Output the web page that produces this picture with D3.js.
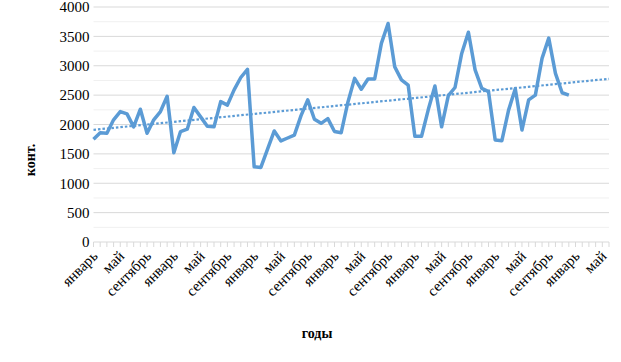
<!DOCTYPE html>
<html>
<head>
<meta charset="utf-8">
<script src="https://cdn.jsdelivr.net/npm/d3@7"></script>
<style>
body { margin: 0; background: #fff; }
text { font-family: "Liberation Serif", "Times New Roman", serif; fill: #000; }
</style>
</head>
<body>
<div id="chart"></div>
<script>
// monthly values, Jan of year 1 .. Dec of year 6
var values = [
    1750, 1860, 1850, 2080, 2220, 2180, 1960, 2260, 1850, 2080, 2220, 2480,
    1520, 1880, 1920, 2290, 2130, 1970, 1960, 2390, 2330, 2590, 2800, 2940,
    1280, 1270, 1580, 1890, 1720, 1770, 1820, 2150, 2420, 2090, 2020, 2100,
    1880, 1860, 2380, 2785, 2600, 2775, 2775, 3380, 3720, 2980, 2760, 2670,
    1800, 1800, 2250, 2655, 1960, 2490, 2630, 3210, 3570, 2930, 2615, 2560,
    1735, 1725, 2245, 2610, 1905, 2420, 2500, 3125, 3470, 2870, 2540, 2500
]
var monthNames = ["январь", "май", "сентябрь"]
var yTicks = [0, 500, 1000, 1500, 2000, 2500, 3000, 3500, 4000]
var nCategories = 77   // axis runs to may of year 7

var width = 621, height = 362
var svg = d3.select("#chart").append("svg")
    .attr("width", width)
    .attr("height", height)

var x = d3.scaleLinear().domain([0, nCategories]).range([93.5, 609])
var y = d3.scaleLinear().domain([0, 4000]).range([242, 7])

// minor gridlines
svg.append("g")
    .selectAll("line")
    .data(d3.range(250, 4000, 500))
    .enter()
    .append("line")
    .attr("x1", x(0)).attr("x2", x(nCategories))
    .attr("y1", function (d) { return y(d) }).attr("y2", function (d) { return y(d) })
    .attr("stroke", "#f0f0f0")
    .attr("stroke-width", 1)

// major gridlines
svg.append("g")
    .selectAll("line")
    .data(yTicks.slice(1))
    .enter()
    .append("line")
    .attr("x1", x(0)).attr("x2", x(nCategories))
    .attr("y1", function (d) { return y(d) }).attr("y2", function (d) { return y(d) })
    .attr("stroke", "#d9d9d9")
    .attr("stroke-width", 1)

// y axis labels
var yAxis = d3.axisLeft(y).tickValues(yTicks).tickFormat(d3.format("d")).tickSize(0).tickPadding(4)
var gy = svg.append("g")
    .attr("transform", "translate(" + x(0) + ",0)")
    .call(yAxis)
    .attr("font-family", "Liberation Serif")
    .attr("font-size", 15)
gy.select(".domain").remove()

// x axis line and month ticks
svg.append("line")
    .attr("x1", x(0)).attr("x2", x(nCategories))
    .attr("y1", y(0)).attr("y2", y(0))
    .attr("stroke", "#d9d9d9")
svg.append("g")
    .selectAll("line")
    .data(d3.range(0, nCategories + 1))
    .enter()
    .append("line")
    .attr("x1", function (d) { return x(d) }).attr("x2", function (d) { return x(d) })
    .attr("y1", y(0)).attr("y2", y(0) + 5)
    .attr("stroke", "#d9d9d9")

// rotated month labels every 4 months
svg.append("g")
    .attr("font-family", "Liberation Serif")
    .attr("font-size", 15)
    .selectAll("text")
    .data(d3.range(0, nCategories, 4))
    .enter()
    .append("text")
    .attr("text-anchor", "end")
    .attr("transform", function (d) {
        return "translate(" + (x(d) + 5) + "," + (y(0) + 15) + ") rotate(-45)"
    })
    .text(function (d) { return monthNames[(d % 12) / 4] })

// data line
var line = d3.line()
    .x(function (d, i) { return x(i) })
    .y(function (d) { return y(d) })
svg.append("path")
    .datum(values)
    .attr("d", line)
    .attr("fill", "none")
    .attr("stroke", "#5b9bd5")
    .attr("stroke-width", 3.5)
    .attr("stroke-linejoin", "round")

// linear trend, least squares over the values, drawn to the axis end
var idx = d3.range(values.length)
var mx = d3.mean(idx), my = d3.mean(values)
var slope = d3.sum(idx, function (i) { return (i - mx) * (values[i] - my) }) /
    d3.sum(idx, function (i) { return (i - mx) * (i - mx) })
var icpt = my - slope * mx
svg.append("line")
    .attr("x1", x(0)).attr("y1", y(icpt))
    .attr("x2", x(nCategories)).attr("y2", y(icpt + slope * nCategories))
    .attr("stroke", "#5b9bd5")
    .attr("stroke-width", 2.2)
    .attr("stroke-dasharray", "2.5,2")

// axis titles
svg.append("text")
    .attr("transform", "translate(35,160) rotate(-90)")
    .attr("text-anchor", "middle")
    .attr("font-size", 14)
    .attr("font-weight", "bold")
    .text("конт.")
svg.append("text")
    .attr("x", 317)
    .attr("y", 338)
    .attr("text-anchor", "middle")
    .attr("font-size", 14)
    .attr("font-weight", "bold")
    .text("годы")
</script>
</body>
</html>
